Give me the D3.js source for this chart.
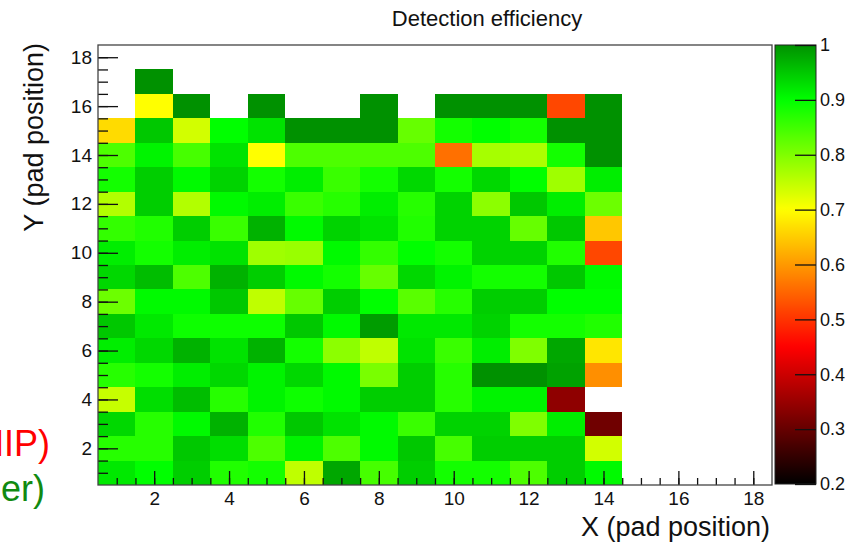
<!DOCTYPE html>
<html>
<head>
<meta charset="utf-8">
<script src="https://cdn.jsdelivr.net/npm/d3@7"></script>
<style>
  body { margin: 0; background: #fff; }
  svg { display: block; }
  text { font-family: "Liberation Sans", Arial, Helvetica, sans-serif; }
</style>
</head>
<body>
<svg id="chart" width="860" height="548"></svg>
<script>
// Pad columns (X) 1..14, one array per pad row (Y); null = pad without data
const padColumns = [1, 2, 3, 4, 5, 6, 7, 8, 9, 10, 11, 12, 13, 14];
const row17 = [null, 1.00, null, null, null, null, null, null, null, null, null, null, null, null];
const row16 = [null, 0.70, 1.00, null, 1.00, null, null, 1.00, null, 1.00, 1.00, 1.00, 0.52, 1.00];
const row15 = [0.665, 0.95, 0.735, 0.90, 0.925, 1.00, 1.00, 1.00, 0.82, 0.885, 0.90, 0.885, 1.00, 1.00];
const row14 = [0.84, 0.91, 0.845, 0.925, 0.70, 0.84, 0.84, 0.84, 0.84, 0.56, 0.77, 0.765, 0.885, 1.00];
const row13 = [0.885, 0.945, 0.905, 0.94, 0.885, 0.915, 0.855, 0.885, 0.935, 0.885, 0.935, 0.90, 0.775, 0.915];
const row12 = [0.76, 0.945, 0.76, 0.905, 0.915, 0.855, 0.87, 0.915, 0.87, 0.94, 0.79, 0.95, 0.915, 0.815];
const row11 = [0.86, 0.875, 0.945, 0.855, 0.97, 0.905, 0.94, 0.925, 0.875, 0.94, 0.94, 0.82, 0.95, 0.645];
const row10 = [0.915, 0.885, 0.915, 0.925, 0.775, 0.78, 0.905, 0.86, 0.90, 0.885, 0.94, 0.94, 0.875, 0.52];
const row09 = [0.935, 0.96, 0.84, 0.97, 0.945, 0.905, 0.885, 0.82, 0.935, 0.91, 0.885, 0.885, 0.95, 0.905];
const row08 = [0.815, 0.905, 0.905, 0.95, 0.75, 0.82, 0.945, 0.90, 0.83, 0.87, 0.945, 0.945, 0.90, 0.90];
const row07 = [0.95, 0.92, 0.89, 0.89, 0.89, 0.95, 0.905, 0.99, 0.92, 0.92, 0.94, 0.885, 0.885, 0.875];
const row06 = [0.915, 0.935, 0.97, 0.925, 0.97, 0.885, 0.79, 0.75, 0.925, 0.855, 0.915, 0.80, 0.98, 0.675];
const row05 = [0.87, 0.885, 0.915, 0.935, 0.91, 0.935, 0.905, 0.805, 0.945, 0.87, 1.00, 1.00, 0.985, 0.59];
const row04 = [0.745, 0.93, 0.96, 0.87, 0.91, 0.89, 0.905, 0.945, 0.945, 0.87, 0.91, 0.91, 0.34, null];
const row03 = [0.935, 0.87, 0.905, 0.97, 0.875, 0.95, 0.925, 0.905, 0.855, 0.94, 0.94, 0.80, 0.915, 0.31];
const row02 = [0.87, 0.87, 0.95, 0.93, 0.84, 0.91, 0.84, 0.905, 0.95, 0.845, 0.945, 0.945, 0.945, 0.735];
const row01 = [0.92, 0.90, 0.945, 0.875, 0.885, 0.75, 0.98, 0.845, 0.945, 0.885, 0.885, 0.84, 0.945, 0.905];
const padRows = [row01, row02, row03, row04, row05, row06, row07, row08, row09,
                 row10, row11, row12, row13, row14, row15, row16, row17];

// Axis ticks and labels
const axisMajorTicks = [2, 4, 6, 8, 10, 12, 14, 16, 18];
const axisMinorTicks = d3.range(1, 18.01, 0.5);
const colorTicks = [0.2, 0.3, 0.4, 0.5, 0.6, 0.7, 0.8, 0.9, 1.0];

// Palette: black -> red -> yellow -> green -> dark green
const paletteStops = [0.2, 0.45, 0.7, 0.9, 1.0];
const paletteColors = ["#000000", "#ff0000", "#ffff00", "#00ff00", "#009100"];

const svg = d3.select("#chart");
const frame = { left: 98, right: 772, top: 45, bottom: 485 };

const x = d3.scaleLinear().domain([0.5, 18.5]).range([frame.left, frame.right]);
const y = d3.scaleLinear().domain([0.5, 18.5]).range([frame.bottom, frame.top]);
const color = d3.scaleLinear().domain(paletteStops).range(paletteColors)
  .interpolate(d3.interpolateRgb).clamp(true);

// flatten to cells
const cells = [];
padRows.forEach((vals, ri) => {
  vals.forEach((v, ci) => {
    if (v !== null) cells.push({ px: padColumns[ci], py: ri + 1, v });
  });
});

// heatmap cells
svg.append("g").selectAll("rect").data(cells).join("rect")
  .attr("x", d => x(d.px - 0.5))
  .attr("y", d => y(d.py + 0.5))
  .attr("width", d => x(d.px + 0.5) - x(d.px - 0.5))
  .attr("height", d => y(d.py - 0.5) - y(d.py + 0.5))
  .attr("fill", d => color(d.v))
  .attr("shape-rendering", "crispEdges");

// axes: ticks point into the frame
function styleAxis(g) {
  g.select(".domain").remove();
  g.selectAll("line").attr("stroke", "#111").attr("stroke-width", 1.3);
  g.selectAll("text").attr("fill", "#111");
}

svg.append("g").attr("transform", `translate(0,${frame.bottom})`)
  .call(d3.axisBottom(x).tickValues(axisMinorTicks).tickFormat("").tickSizeInner(-7).tickSizeOuter(0))
  .call(styleAxis);
svg.append("g").attr("transform", `translate(0,${frame.bottom})`)
  .call(d3.axisBottom(x).tickValues(axisMajorTicks).tickFormat(d3.format("d"))
    .tickSizeInner(-14).tickSizeOuter(0).tickPadding(7))
  .call(styleAxis)
  .selectAll("text").attr("font-size", 19);

svg.append("g").attr("transform", `translate(${frame.left},0)`)
  .call(d3.axisLeft(y).tickValues(axisMinorTicks).tickFormat("").tickSizeInner(-10).tickSizeOuter(0))
  .call(styleAxis);
svg.append("g").attr("transform", `translate(${frame.left},0)`)
  .call(d3.axisLeft(y).tickValues(axisMajorTicks).tickFormat(d3.format("d"))
    .tickSizeInner(-20).tickSizeOuter(0).tickPadding(6))
  .call(styleAxis)
  .selectAll("text").attr("font-size", 19);

// frame
svg.append("rect")
  .attr("x", frame.left).attr("y", frame.top)
  .attr("width", frame.right - frame.left).attr("height", frame.bottom - frame.top)
  .attr("fill", "none").attr("stroke", "#444").attr("stroke-width", 1.3);

// colour bar
const bar = { left: 775, right: 816 };
const cy = d3.scaleLinear().domain([0.2, 1.0]).range([484, 45]);
const grad = svg.append("defs").append("linearGradient")
  .attr("id", "palette").attr("x1", 0).attr("y1", 1).attr("x2", 0).attr("y2", 0);
grad.selectAll("stop").data(d3.range(0, 1.0001, 0.01)).join("stop")
  .attr("offset", t => t)
  .attr("stop-color", t => color(0.2 + 0.8 * t));
svg.append("rect")
  .attr("x", bar.left).attr("y", cy(1.0))
  .attr("width", bar.right - bar.left).attr("height", cy(0.2) - cy(1.0))
  .attr("fill", "url(#palette)").attr("stroke", "#222").attr("stroke-width", 1);

svg.append("g").attr("transform", `translate(${bar.right},0)`)
  .call(d3.axisRight(cy).tickValues(colorTicks).tickFormat(d3.format("~g"))
    .tickSizeInner(-21).tickSizeOuter(0).tickPadding(4))
  .call(styleAxis)
  .selectAll("text").attr("font-size", 18);

// titles
svg.append("text")
  .attr("x", 487).attr("y", 26).attr("text-anchor", "middle")
  .attr("font-size", 22).attr("fill", "#111")
  .text("Detection efficiency");

svg.append("text")
  .attr("x", 770).attr("y", 536).attr("text-anchor", "end")
  .attr("font-size", 27).attr("fill", "#111")
  .text("X (pad position)");

svg.append("text")
  .attr("transform", "translate(43,43) rotate(-90)")
  .attr("text-anchor", "end")
  .attr("font-size", 27).attr("fill", "#111")
  .text("Y (pad position)");

// side annotations running in from the left edge
svg.append("text")
  .attr("x", 50).attr("y", 456).attr("text-anchor", "end")
  .attr("font-size", 36).attr("fill", "#ff0000")
  .text("(MIP)");
svg.append("text")
  .attr("x", 45).attr("y", 501).attr("text-anchor", "end")
  .attr("font-size", 36).attr("fill", "#118a11")
  .text("(other)");
</script>
</body>
</html>
